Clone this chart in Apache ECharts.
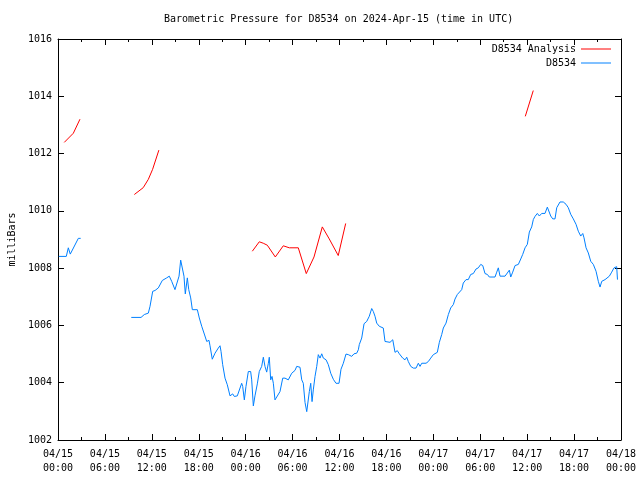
<!DOCTYPE html>
<html>
<head>
<meta charset="utf-8">
<script src="https://cdn.jsdelivr.net/npm/echarts@6/dist/echarts.min.js"></script>
<style>html,body{margin:0;padding:0;background:#fff;}#c{width:640px;height:480px;}</style>
</head>
<body>
<div id="c"></div>
<script>
// Hours since 2024-04-15 00:00 UTC; null = gap
var blueHours = [0.1,1.06,1.32,1.57,1.79,2.60,2.90, 6,
9.37,10.62,10.81,11.04,11.55,11.77,12.11,12.41,12.83,13.34,13.90,14.23,14.54,14.96,15.18,15.48,15.69,15.90,16.11,16.28,16.54,16.72,16.97,17.18,17.82,18.07,18.38,18.71,19.02,19.31,19.44,19.73,20.08,20.50,20.72,20.85,21.06,21.36,21.65,22.00,22.34,22.55,22.93,23.49,23.62,23.83,24.04,24.34,24.64,24.77,24.98,25.19,25.49,25.74,26.05,26.26,26.47,26.69,26.90,27.02,27.20,27.37,27.54,27.75,27.97,28.39,28.74,29.03,29.45,29.89,30.31,30.53,30.95,31.17,31.37,31.59,31.81,32.01,32.14,32.32,32.49,32.65,32.87,33.09,33.29,33.51,33.73,33.93,34.28,34.57,34.88,35.21,35.55,35.94,36.19,36.49,36.83,37.13,37.56,37.86,38.20,38.41,38.53,38.84,39.14,39.48,39.81,40.12,40.32,40.54,40.76,41.09,41.60,41.82,42.46,42.81,43.10,43.39,43.65,44.08,44.38,44.60,44.80,45.11,45.44,45.79,46.08,46.30,46.52,47.07,47.36,47.67,48.00,48.51,48.77,49.07,49.28,49.62,49.92,50.22,50.56,50.77,51.07,51.32,51.63,51.83,52.18,52.47,52.78,53.11,53.46,53.75,54.06,54.32,54.61,54.91,55.16,55.89,56.11,56.31,56.53,57.17,57.46,57.72,57.90,58.15,58.45,58.87,59.18,59.43,59.73,60.02,60.28,60.58,60.79,61.01,61.30,61.56,61.86,62.28,62.58,62.83,63.01,63.27,63.56,63.78,64.20,64.62,64.97,65.26,65.57,65.90,66.25,66.54,66.85,67.11,67.27,67.53,67.82,68.13,68.46,68.81,69.10,69.32,69.54,69.96,70.51,70.81,71.11,71.36,71.45,71.55];
var bluePressure = [1008.41,1008.41,1008.71,1008.49,1008.49,1009.04,1009.04, null,
1006.28,1006.28,1006.22,1006.38,1006.43,1006.67,1007.19,1007.22,1007.31,1007.57,1007.66,1007.72,1007.54,1007.25,1007.31,1007.72,1008.28,1008.24,1007.72,1007.10,1007.66,1007.25,1006.96,1006.55,1006.55,1006.26,1005.97,1005.70,1005.44,1005.48,1005.29,1004.82,1005.03,1005.21,1005.29,1005.09,1004.63,1004.16,1003.93,1003.54,1003.61,1003.52,1003.54,1003.98,1003.87,1003.40,1003.87,1004.39,1004.39,1004.10,1003.19,1003.54,1003.96,1004.39,1004.57,1004.89,1004.57,1004.37,1004.68,1004.89,1004.10,1004.22,1003.98,1003.40,1003.40,1003.69,1004.16,1004.16,1004.10,1004.33,1004.43,1004.57,1004.54,1004.10,1003.98,1003.31,1002.99,1002.99,1003.69,1003.98,1003.34,1003.75,1004.22,1004.57,1004.98,1004.86,1005.01,1004.86,1004.80,1004.63,1004.33,1004.12,1003.98,1003.98,1004.47,1004.68,1005.00,1004.98,1004.92,1005.01,1005.03,1005.15,1005.33,1005.56,1006.06,1006.14,1006.32,1006.59,1006.49,1006.32,1006.08,1005.97,1005.91,1005.44,1005.41,1005.50,1005.06,1005.12,1005.01,1004.86,1004.80,1004.89,1004.74,1004.57,1004.51,1004.51,1004.68,1004.57,1004.68,1004.68,1004.74,1004.86,1004.98,1005.06,1005.41,1005.68,1005.91,1006.08,1006.38,1006.61,1006.73,1006.92,1007.08,1007.11,1007.25,1007.48,1007.60,1007.60,1007.78,1007.81,1007.97,1008.01,1008.13,1008.09,1007.81,1007.78,1007.69,1007.69,1007.86,1008.01,1007.72,1007.72,1007.83,1007.93,1007.69,1007.86,1008.09,1008.13,1008.32,1008.48,1008.71,1008.83,1009.26,1009.44,1009.70,1009.81,1009.91,1009.82,1009.91,1009.91,1010.13,1010.19,1009.82,1009.72,1009.72,1010.11,1010.31,1010.31,1010.23,1010.11,1009.88,1009.72,1009.53,1009.29,1009.12,1009.21,1009.06,1008.71,1008.53,1008.24,1008.13,1007.89,1007.54,1007.34,1007.54,1007.60,1007.72,1007.86,1008.01,1008.07,1008.05,1007.60];

var redHours = [0.8,1.96,2.81, 6,
9.76,10.9,11.55,12.1,12.9, 18,
24.85,25.74,26.25,26.77,27.79,28.81,29.58,30.73,31.75,32.74,33.8,34.69,35.84,36.79, 48,
59.76,60.78];
var redPressure = [1012.39,1012.71,1013.2, null,
1010.57,1010.81,1011.1,1011.45,1012.12, null,
1008.59,1008.92,1008.87,1008.80,1008.39,1008.78,1008.71,1008.71,1007.81,1008.39,1009.44,1009.02,1008.44,1009.56, null,
1013.30,1014.2];

var xTickLabels = ['04/15\n00:00','04/15\n06:00','04/15\n12:00','04/15\n18:00','04/16\n00:00','04/16\n06:00','04/16\n12:00','04/16\n18:00','04/17\n00:00','04/17\n06:00','04/17\n12:00','04/17\n18:00','04/18\n00:00'];
var yTickLabels = ['1002','1004','1006','1008','1010','1012','1014','1016'];

var seriesNames = ['D8534 Analysis', 'D8534'];
var titleText = 'Barometric Pressure for D8534 on 2024-Apr-15 (time in UTC)';

function pairs(hs, vs) {
  return hs.map(function (h, i) { return [h, vs[i] === null ? '-' : vs[i]]; });
}

var FONT = 'DejaVu Sans Mono';
var FS = 10;

function xAxisCfg(pos, showLabel) {
  return {
    type: 'value', position: pos, min: 0, max: 72, interval: 6,
    axisLine: { show: true, onZero: false, lineStyle: { color: '#000', width: 1 } },
    axisTick: { show: true, inside: true, length: 6, lineStyle: { color: '#000' } },
    minorTick: { show: true, splitNumber: 2, length: 3, lineStyle: { color: '#000' } },
    splitLine: { show: false },
    axisLabel: {
      show: showLabel, color: '#000', fontFamily: FONT, fontSize: FS, lineHeight: 14, margin: 7,
      formatter: function (v) { return xTickLabels[Math.round(v / 6)]; }
    }
  };
}
function yAxisCfg(pos, showLabel) {
  return {
    type: 'value', position: pos, min: 1002, max: 1016, interval: 2,
    axisLine: { show: true, onZero: false, lineStyle: { color: '#000', width: 1 } },
    axisTick: { show: true, inside: true, length: 6, lineStyle: { color: '#000' } },
    splitLine: { show: false },
    name: showLabel ? 'milliBars' : '',
    nameLocation: 'middle', nameGap: 41, nameRotate: 90,
    nameTextStyle: { color: '#000', fontFamily: FONT, fontSize: FS },
    axisLabel: {
      show: showLabel, color: '#000', fontFamily: FONT, fontSize: FS, margin: 6,
      formatter: function (v) { return yTickLabels[Math.round((v - 1002) / 2)]; }
    }
  };
}

var chart = echarts.init(document.getElementById('c'), null, { renderer: 'canvas' });
chart.setOption({
  animation: false,
  backgroundColor: '#fff',
  title: {
    text: titleText, left: 164, top: 14, padding: 0,
    textStyle: { fontFamily: FONT, fontSize: FS, fontWeight: 'normal', color: '#000' }
  },
  legend: {
    data: seriesNames, orient: 'vertical', right: 29, top: 42, align: 'right',
    icon: 'rect', itemWidth: 30, itemHeight: 1, itemGap: 0, padding: 0,
    textStyle: { fontFamily: FONT, fontSize: FS, color: '#000', lineHeight: 14 }
  },
  grid: { left: 58, right: 19, top: 39, bottom: 40, show: false, containLabel: false, outerBoundsMode: 'none' },
  xAxis: [xAxisCfg('bottom', true), xAxisCfg('top', false)],
  yAxis: [yAxisCfg('left', true), yAxisCfg('right', false)],
  series: [
    { name: seriesNames[0], type: 'line', data: pairs(redHours, redPressure), symbol: 'none', showSymbol: false,
      connectNulls: false, lineStyle: { color: '#ff0000', width: 1 }, itemStyle: { color: '#ff0000' } },
    { name: seriesNames[1], type: 'line', data: pairs(blueHours, bluePressure), symbol: 'none', showSymbol: false,
      connectNulls: false, lineStyle: { color: '#0080ff', width: 1 }, itemStyle: { color: '#0080ff' } }
  ]
});
</script>
</body>
</html>
